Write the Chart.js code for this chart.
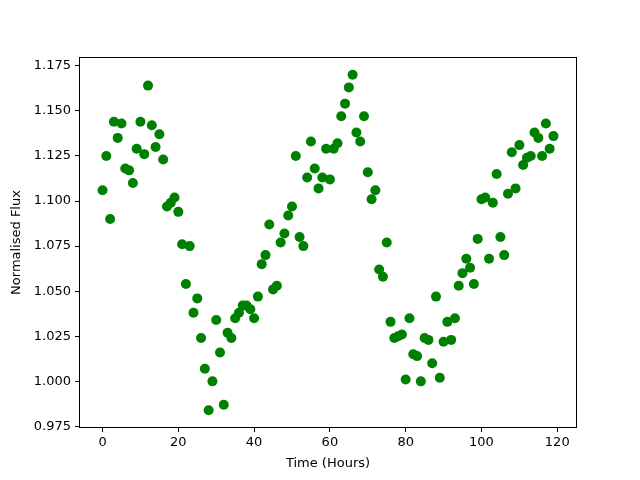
<!DOCTYPE html>
<html>
<head>
<meta charset="utf-8">
<script src="https://cdn.jsdelivr.net/npm/chart.js@4/dist/chart.umd.min.js"></script>
<style>
  html, body { margin: 0; padding: 0; background: #fff; }
  canvas { display: block; }
</style>
</head>
<body>
<canvas id="fluxChart" width="640" height="480"></canvas>
<script>
// time stamps (hours), one reading per hour
var hours = [
  0, 1, 2, 3, 4, 5, 6, 7, 8, 9, 10, 11, 12, 13, 14, 15, 16, 17, 18, 19,
  20, 21, 22, 23, 24, 25, 26, 27, 28, 29, 30, 31, 32, 33, 34, 35, 36, 37, 38, 39,
  40, 41, 42, 43, 44, 45, 46, 47, 48, 49, 50, 51, 52, 53, 54, 55, 56, 57, 58, 59,
  60, 61, 62, 63, 64, 65, 66, 67, 68, 69, 70, 71, 72, 73, 74, 75, 76, 77, 78, 79,
  80, 81, 82, 83, 84, 85, 86, 87, 88, 89, 90, 91, 92, 93, 94, 95, 96, 97, 98, 99,
  100, 101, 102, 103, 104, 105, 106, 107, 108, 109, 110, 111, 112, 113, 114, 115, 116, 117, 118, 119
];

// normalised flux
var flux = [
  1.106, 1.125, 1.090, 1.144, 1.135, 1.143, 1.118, 1.117, 1.110, 1.129,
  1.144, 1.126, 1.164, 1.142, 1.130, 1.137, 1.123, 1.097, 1.099, 1.102,
  1.094, 1.076, 1.054, 1.075, 1.038, 1.046, 1.024, 1.007, 0.984, 1.000,
  1.034, 1.016, 0.987, 1.027, 1.024, 1.035, 1.038, 1.042, 1.042, 1.040,
  1.035, 1.047, 1.065, 1.070, 1.087, 1.051, 1.053, 1.077, 1.082, 1.092,
  1.097, 1.125, 1.080, 1.075, 1.113, 1.133, 1.118, 1.107, 1.113, 1.129,
  1.112, 1.129, 1.132, 1.147, 1.154, 1.163, 1.170, 1.138, 1.133, 1.147,
  1.116, 1.101, 1.106, 1.062, 1.058, 1.077, 1.033, 1.024, 1.025, 1.026,
  1.001, 1.035, 1.015, 1.014, 1.000, 1.024, 1.023, 1.010, 1.047, 1.002,
  1.022, 1.033, 1.023, 1.035, 1.053, 1.060, 1.068, 1.063, 1.054, 1.079,
  1.101, 1.102, 1.068, 1.099, 1.115, 1.080, 1.070, 1.104, 1.127, 1.107,
  1.131, 1.120, 1.124, 1.125, 1.138, 1.135, 1.125, 1.143, 1.129, 1.136
];

var xTicks = [0, 20, 40, 60, 80, 100, 120];
var yTicks = [0.975, 1.000, 1.025, 1.050, 1.075, 1.100, 1.125, 1.150, 1.175];

var points = hours.map(function (h, i) { return { x: h, y: flux[i] }; });

// matplotlib style box round the plot area
var frame = {
  id: 'frame',
  afterDatasetsDraw: function (chart) {
    var a = chart.chartArea, c = chart.ctx;
    c.save();
    c.strokeStyle = '#000';
    c.lineWidth = 1;
    c.strokeRect(a.left - 0.5, a.top - 0.5, a.right - a.left + 1, a.bottom - a.top + 1);
    c.restore();
  }
};

var font = { family: 'DejaVu Sans', size: 13 };

new Chart(document.getElementById('fluxChart').getContext('2d'), {
  type: 'scatter',
  data: {
    datasets: [{
      data: points,
      backgroundColor: '#008000',
      borderColor: '#008000',
      pointRadius: 5,
      pointHoverRadius: 5,
      borderWidth: 0
    }]
  },
  options: {
    responsive: false,
    animation: false,
    layout: { padding: { top: 58, right: 64, left: 0, bottom: 0 } },
    plugins: { legend: { display: false }, tooltip: { enabled: false } },
    scales: {
      x: {
        type: 'linear',
        min: -5.95,
        max: 124.95,
        afterBuildTicks: function (s) { s.ticks = xTicks.map(function (v) { return { value: v }; }); },
        afterFit: function (s) { s.height = 53; },
        grid: { drawOnChartArea: false, color: '#000', tickLength: 5, tickWidth: 1 },
        border: { display: false },
        ticks: { color: '#000', font: font, padding: 3, maxRotation: 0 },
        title: { display: true, text: 'Time (Hours)', color: '#000', font: font, padding: { top: 9, bottom: 9 } }
      },
      y: {
        min: 0.9747,
        max: 1.1793,
        afterBuildTicks: function (s) { s.ticks = yTicks.map(function (v) { return { value: v }; }); },
        afterFit: function (s) { s.width = 80; },
        grid: { drawOnChartArea: false, color: '#000', tickLength: 5, tickWidth: 1 },
        border: { display: false },
        ticks: {
          color: '#000', font: font, padding: 4,
          callback: function (v) { return Number(v).toFixed(3); }
        },
        title: { display: true, text: 'Normalised Flux', color: '#000', font: font, padding: { top: 9, bottom: 9 } }
      }
    }
  },
  plugins: [frame]
});
</script>
</body>
</html>
